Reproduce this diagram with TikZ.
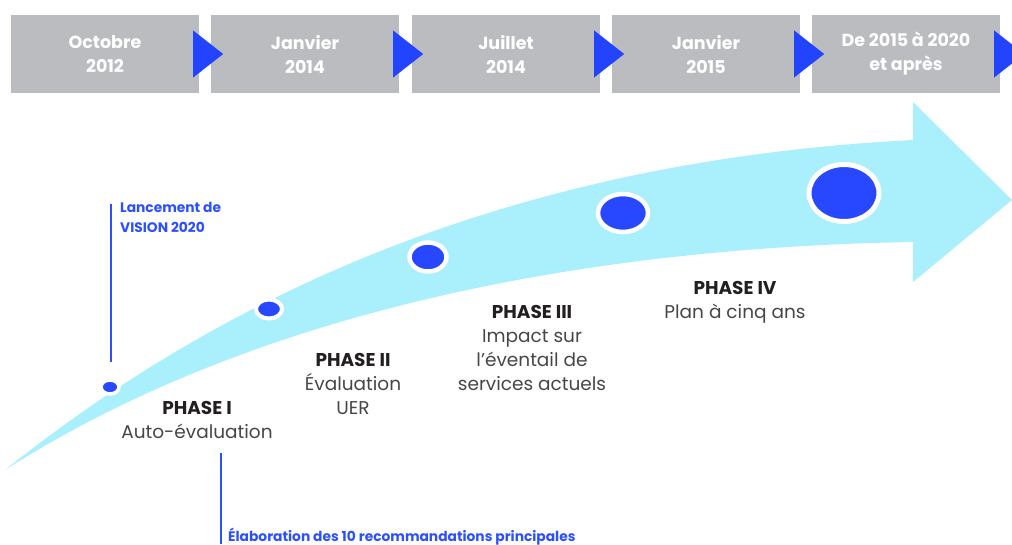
\documentclass[tikz,border=0pt]{standalone}
\usepackage{fontspec}
\setmainfont{Poppins}
\usetikzlibrary{shapes.geometric}
\definecolor{boxgray}{RGB}{187,188,192}
\definecolor{tipblue}{RGB}{35,68,255}
\definecolor{dotblue}{RGB}{40,72,255}
\definecolor{arrowcyan}{RGB}{170,240,252}
\definecolor{labelblue}{RGB}{45,80,255}
\definecolor{phasedark}{RGB}{35,31,32}
\definecolor{bodygray}{RGB}{70,70,72}
\tikzset{
  datebox/.style={fill=boxgray, text=white, font=\fontsize{17.5}{24}\selectfont\bfseries,
    minimum width=188pt, minimum height=78pt, inner sep=0pt, align=center},
  dot/.style={ellipse, fill=dotblue, draw=white, inner sep=0pt},
  phase/.style={align=center, text=bodygray, font=\fontsize{18.5}{24}\selectfont, inner sep=0pt},
  annot/.style={draw=labelblue, line width=1.2pt},
  annotlabel/.style={text=labelblue, font=\fontsize{13.8}{20}\selectfont\bfseries,
    align=left, inner sep=0pt}
}
\newcommand{\ph}[1]{{\bfseries\color{phasedark}#1}}
\begin{document}
\begin{tikzpicture}[x=1pt, y=-1pt]
  \useasboundingbox (0,0) rectangle (1012,544);
  % timeline across the top
  \node[datebox] (d1) at (105,54) {Octobre\\2012};
  \node[datebox] (d2) at (305,54) {Janvier\\2014};
  \node[datebox] (d3) at (506,54) {Juillet\\2014};
  \node[datebox] (d4) at (706,54) {Janvier\\2015};
  \node[datebox] (d5) at (906,54) {De 2015 à 2020\\et après};
  \foreach \i in {1,...,5}
    \fill[tipblue] (d\i.east) ++(-6,-23.5) -- ++(30,23.5) -- ++(-30,23.5) -- cycle;
  % big curved arrow
  \fill[arrowcyan] (5,470) .. controls (230,290) and (520,160) .. (913,140)
    -- (913,102) -- (1012,200) -- (913,282) -- (913,242)
    .. controls (560,248) and (240,320) .. cycle;
  % phase markers
  \node[dot, line width=3.5pt, minimum width=18pt, minimum height=14pt] (p1) at (110,387) {};
  \node[dot, line width=4pt, minimum width=26pt, minimum height=19pt] (p2) at (269,309) {};
  \node[dot, line width=4.5pt, minimum width=37pt, minimum height=29pt] (p3) at (428,257) {};
  \node[dot, line width=4.5pt, minimum width=50pt, minimum height=38pt] (p4) at (623,213) {};
  \node[dot, line width=5pt, minimum width=70pt, minimum height=57pt] (p5) at (844,193) {};
  % phase texts
  \node[phase, anchor=north] (t1) at (197,401) {\ph{PHASE I}\\Auto-évaluation};
  \node[phase, anchor=north] (t2) at (353,353) {\ph{PHASE II}\\Évaluation\\UER};
  \node[phase, anchor=north] (t3) at (532,305) {\ph{PHASE III}\\Impact sur\\l’éventail de\\services actuels};
  \node[phase, anchor=north] (t4) at (735,281) {\ph{PHASE IV}\\Plan à cinq ans};
  % annotations
  \node[annotlabel, anchor=north west] (lanc) at (120,202) {Lancement de\\VISION 2020};
  \coordinate (l1a) at (111,204);
  \coordinate (l1b) at (111,362);
  \draw[annot] (l1a) -- (l1b);
  \node[annotlabel, anchor=base west] (elab) at (228,541) {Élaboration des 10 recommandations principales};
  \coordinate (l2a) at (221,453);
  \coordinate (l2b) at (221,544);
  \draw[annot] (l2a) -- (l2b);
\end{tikzpicture}
\end{document}
